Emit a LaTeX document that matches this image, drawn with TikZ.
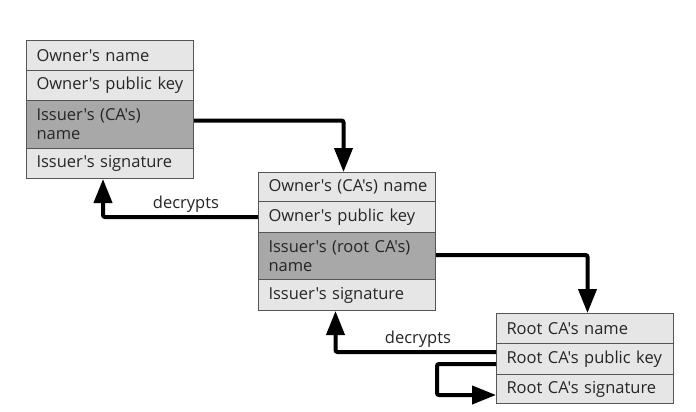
\documentclass[tikz,border=0pt]{standalone}
\usepackage{fontspec}
\newfontfamily\boxfont{Open Sans}
\usetikzlibrary{arrows.meta}
\definecolor{lightrow}{HTML}{E6E6E6}
\definecolor{darkrow}{HTML}{A8A8A8}
\definecolor{bordercol}{HTML}{555555}
\definecolor{txtcol}{HTML}{262626}
\newcommand{\ind}{\hspace*{7pt}}
\begin{document}
\begin{tikzpicture}[x=1pt,y=-1pt,
  row/.style={draw=bordercol, fill=lightrow, line width=1pt, anchor=north west,
    inner xsep=3pt, inner ysep=0pt, text width=161pt, align=left,
    font=\boxfont\fontsize{16.5}{19}\selectfont, text=txtcol},
  wrow/.style={row, text width=171pt},
  darkcell/.style={fill=darkrow},
  conn/.style={line width=4pt, rounded corners=2pt, -{Triangle[length=24pt,width=18pt]}},
  lbl/.style={font=\boxfont\fontsize{16.5}{19}\selectfont, text=txtcol}]
\useasboundingbox (0,0) rectangle (696,412);
\fill[white] (0,0) rectangle (696,412);
% Box 1
\node[row, minimum height=30pt] (a1) at (26,40) {\ind Owner's name};
\node[row, minimum height=30pt] (a2) at (26,70) {\ind Owner's public key};
\node[row, darkcell, minimum height=48pt] (a3) at (26,100) {\ind Issuer's (CA's)\\\ind name};
\node[row, minimum height=30pt] (a4) at (26,148) {\ind Issuer's signature};
% Box 2
\node[wrow, minimum height=29pt] (b1) at (258,172) {\ind Owner's (CA's) name};
\node[wrow, minimum height=31pt] (b2) at (258,201) {\ind Owner's public key};
\node[wrow, darkcell, minimum height=47pt] (b3) at (258,232) {\ind Issuer's (root CA's)\\\ind name};
\node[wrow, minimum height=31pt] (b4) at (258,279) {\ind Issuer's signature};
% Box 3
\node[wrow, minimum height=30pt] (c1) at (496,313) {\ind Root CA's name};
\node[wrow, minimum height=31pt] (c2) at (496,343) {\ind Root CA's public key};
\node[wrow, minimum height=29pt] (c3) at (496,374) {\ind Root CA's signature};
% Connectors
\draw[conn] ([yshift=4pt]a3.east) -| ([xshift=-3.5pt]b1.north);
\draw[conn] (b2.west) -| ([xshift=-7pt]a4.south);
\node[lbl] (d1) at (186,204) {decrypts};
\draw[conn] ([yshift=1pt]b3.east) -| ([xshift=2.5pt]c1.north);
\draw[conn] ([yshift=7pt]c2.west) -| ([xshift=-11.5pt]b4.south);
\node[lbl] (d2) at (418,339) {decrypts};
\coordinate (loopx) at (437,0);
\draw[conn] ([yshift=-5pt]c2.west) -| ([yshift=-6pt]c3.west -| loopx) -- ([yshift=-6pt]c3.west);
\end{tikzpicture}
\end{document}
